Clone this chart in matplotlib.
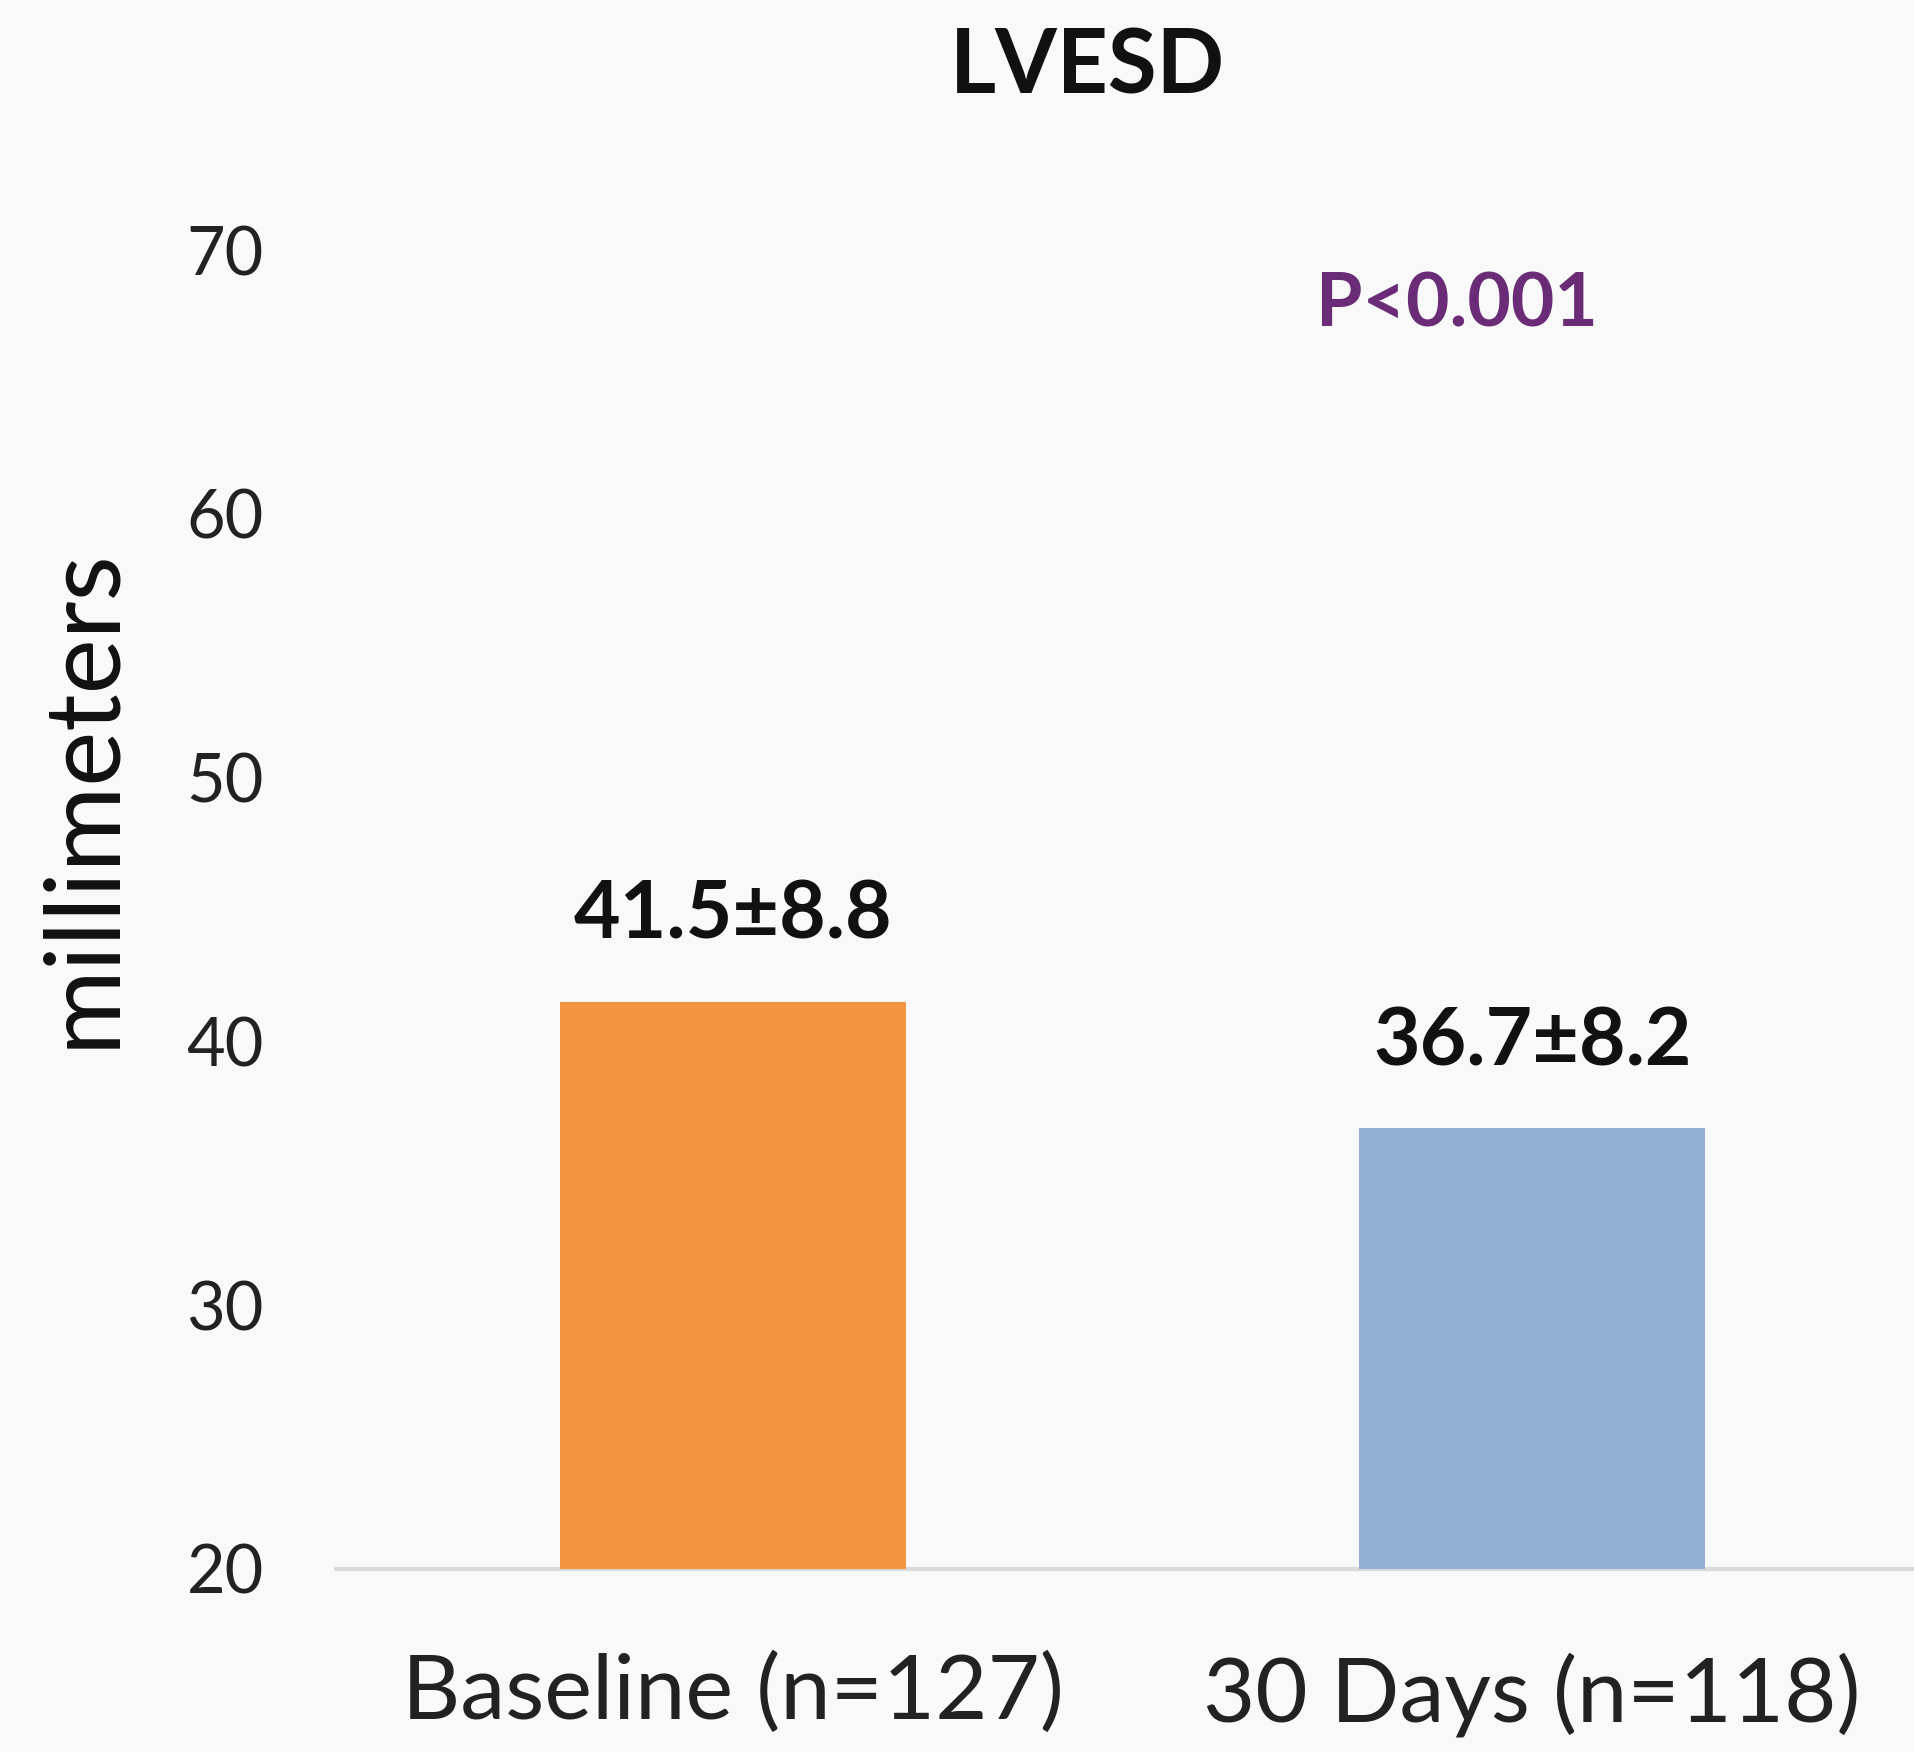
import numpy as np
import matplotlib.pyplot as plt

# 数据
categories = ['Baseline (n=127)', '30 Days (n=118)']
means = [41.5, 36.7]
sds = [8.8, 8.2]
bar_colors = ['#F39642', '#93AFD5']
p_text = 'P<0.001'
yticks = [20, 30, 40, 50, 60, 70]

plt.rcParams['font.family'] = ['Lato', 'DejaVu Sans']

bg = '#F9F9F9'
fig = plt.figure(figsize=(19.15, 17.52), dpi=100, facecolor=bg)
ax = fig.add_axes([0.1755, 0.1045, 0.8245, 0.7528], facecolor=bg)

x = np.arange(len(categories))
ax.bar(x, [m - 20 for m in means], bottom=20, width=0.433, color=bar_colors, zorder=2)

# 柱顶数值标注
for xi, m, s in zip(x, means, sds):
    ax.annotate(f'{m}±{s}', xy=(xi, m), xytext=(0, 62), textcoords='offset points',
                ha='center', va='center', fontsize=58, fontweight='bold', color='#111111')

ax.text(0.906, 67.9, p_text, ha='center', va='center', fontsize=54,
        fontweight='bold', color='#6B2C77')

ax.set_xlim(-0.497, 1.479)
ax.set_ylim(20, 70)
ax.set_yticks(yticks)
ax.set_xticks(x)
ax.set_xticklabels(categories)

for side in ['top', 'right', 'left']:
    ax.spines[side].set_visible(False)
ax.spines['bottom'].set_color('#D9D9D9')
ax.spines['bottom'].set_linewidth(3)
ax.spines['bottom'].set_zorder(1)

ax.tick_params(axis='y', length=0, pad=52, labelsize=48, labelcolor='#222222')
ax.tick_params(axis='x', length=0, pad=60, labelsize=65, labelcolor='#222222')

ax.set_ylabel('millimeters', fontsize=75, color='#111111')
ax.yaxis.set_label_coords(-0.13, 0.585)

fig.text(0.5676, 1 - 67 / 1752, 'LVESD', ha='center', va='center',
         fontsize=64, fontweight='bold', color='#111111')

fig.savefig('out.png', dpi=100, facecolor=bg)
